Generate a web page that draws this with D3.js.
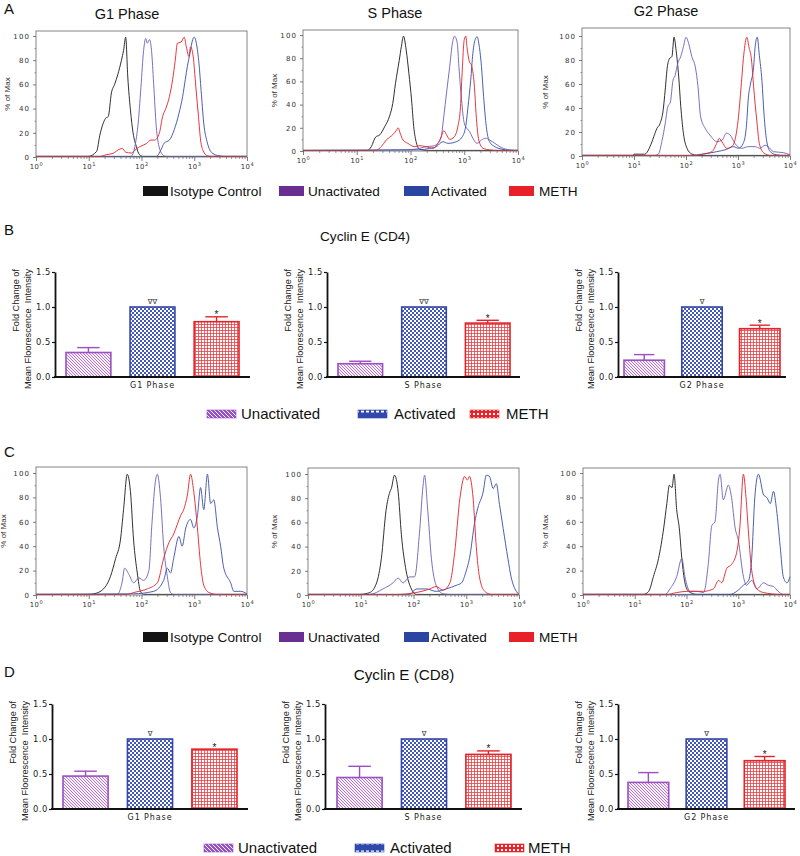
<!DOCTYPE html>
<html><head><meta charset="utf-8">
<script src="https://cdn.jsdelivr.net/npm/d3@7"></script>
<style>body{margin:0;background:#fff}svg{display:block}</style>
</head><body>
<svg id="c" width="800" height="856"></svg>
<script>
// ---------------- DATA ----------------
const seriesNames = ["Isotype Control","Unactivated","Activated","METH"];
const phaseNames = ["G1 Phase","S Phase","G2 Phase"];
const decadeTicks = [1,10,100,1000,10000];
const percentTicks = [0,20,40,60,80,100];
const foldTicks = [0.0,0.5,1.0,1.5];
const barGroups = ["Unactivated","Activated","METH"];
const cd4Title = "Cyclin E (CD4)";
const cd8Title = "Cyclin E (CD8)";

// Histograms: [log10 fluorescence, % of max]
// CD4 – G1
const cd4G1Isotype = [[0,0.5],[0.99,0.5],[1.15,4.7],[1.21,18],[1.32,32],[1.37,33.5],[1.43,53],[1.49,60],[1.55,68],[1.62,80],[1.66,88],[1.70,99],[1.74,66],[1.79,39],[1.84,20],[1.9,9],[1.96,2],[2.03,0.5],[4,0.5]];
const cd4G1Unact = [[0,0.5],[1.8,0.5],[1.93,25],[1.99,58],[2.04,88],[2.08,98],[2.11,94],[2.15,97],[2.19,88],[2.23,61],[2.28,25],[2.33,9],[2.4,2],[2.46,0.5],[4,0.5]];
const cd4G1Act = [[0,0.5],[2.28,0.5],[2.37,6],[2.43,11.5],[2.53,14],[2.62,22.5],[2.71,36],[2.78,50],[2.83,64],[2.87,75],[2.92,86],[2.97,97],[3.0,99],[3.04,94],[3.09,77],[3.13,55],[3.18,28],[3.25,11.5],[3.34,3.3],[3.47,1],[3.59,0.5],[4,0.5]];
const cd4G1Meth = [[0,0.5],[1.21,0.5],[1.34,2],[1.46,3],[1.59,6.6],[1.64,7],[1.7,4],[1.81,3.3],[1.9,6.6],[1.99,9],[2.09,11],[2.18,14],[2.25,14],[2.34,20],[2.4,33.5],[2.46,40],[2.53,50],[2.59,64],[2.64,80],[2.68,94],[2.75,95],[2.81,99],[2.85,91],[2.9,83],[2.93,91],[2.98,83],[3.03,58],[3.08,33.5],[3.12,14],[3.17,5],[3.25,1],[3.34,0.5],[4,0.5]];
// CD4 – S
const cd4SIsotype = [[0,0.5],[1.2,0.5],[1.27,3.7],[1.35,12],[1.43,14],[1.52,21],[1.61,30],[1.67,41],[1.72,58],[1.79,78],[1.83,90],[1.87,99],[1.92,87],[1.97,67],[2.02,44],[2.06,21],[2.11,7],[2.17,1.5],[2.3,0.5],[4,0.5]];
const cd4SUnact = [[0,0.5],[1.92,1],[2.11,1.7],[2.29,3.7],[2.42,4.3],[2.51,6.6],[2.57,12],[2.62,30],[2.67,50],[2.73,73],[2.78,93],[2.82,99],[2.87,93],[2.9,73],[2.95,44],[3.0,24],[3.05,19.5],[3.1,16.7],[3.16,11],[3.24,6.6],[3.32,9.5],[3.4,11],[3.47,9.5],[3.57,6.6],[3.69,3],[3.84,1],[4,0.5]];
const cd4SAct = [[0,0.5],[2.17,1],[2.36,2.3],[2.48,3.7],[2.6,8],[2.7,6.6],[2.85,8],[2.96,12],[3.03,22],[3.07,38],[3.12,61],[3.16,84],[3.21,97],[3.24,98.5],[3.27,93],[3.32,73],[3.36,47],[3.41,21],[3.47,8],[3.57,3.7],[3.72,1.4],[3.84,0.5],[4,0.5]];
const cd4SMeth = [[0,0.5],[1.36,0.5],[1.46,4],[1.55,9.5],[1.67,14],[1.74,18],[1.77,20],[1.81,15],[1.86,9.5],[1.95,6.6],[2.08,3.7],[2.17,4.6],[2.29,3.7],[2.42,2.3],[2.51,6.6],[2.57,12],[2.62,17.5],[2.67,14],[2.73,10],[2.81,12],[2.88,21],[2.93,38],[2.96,67],[3.0,96],[3.03,99],[3.05,90],[3.09,78],[3.14,73],[3.19,55],[3.22,32],[3.27,9.5],[3.35,2.3],[3.47,1],[3.6,0.5],[4,0.5]];
// CD4 – G2
const cd4G2Isotype = [[0,0.5],[0.98,0.5],[1.0,1.5],[1.2,1.5],[1.23,2],[1.31,8],[1.38,16],[1.44,23],[1.5,27],[1.56,38],[1.6,55],[1.64,74],[1.68,81],[1.73,83],[1.77,99],[1.81,88],[1.86,66],[1.9,41],[1.95,19],[2.02,6.4],[2.11,1.7],[2.21,0.5],[4,0.5]];
const cd4G2Unact = [[0,0.5],[1.4,0.5],[1.47,1.7],[1.54,13],[1.6,27],[1.65,41],[1.7,45],[1.75,63],[1.79,67],[1.84,77],[1.9,83],[1.95,91],[2.0,99],[2.05,94],[2.11,83],[2.18,74],[2.23,58],[2.28,33],[2.37,23],[2.46,17.5],[2.59,12],[2.69,13],[2.78,19],[2.85,17.5],[2.94,10.5],[3.07,6.4],[3.2,7.8],[3.33,7.8],[3.42,6.4],[3.52,9],[3.58,7.8],[3.68,3.6],[3.87,2.8],[4,1]];
const cd4G2Act = [[0,0.5],[2.08,0.5],[2.34,1.7],[2.59,3.6],[2.78,5.5],[2.91,7.8],[3.01,6.4],[3.1,10.5],[3.16,24],[3.2,49],[3.24,60],[3.3,74],[3.33,91],[3.37,99],[3.41,84],[3.46,63],[3.5,35],[3.55,13],[3.62,3.6],[3.74,1],[3.85,0.5],[4,0.5]];
const cd4G2Meth = [[0,0.5],[2.21,0.5],[2.34,1.7],[2.5,3.6],[2.59,10.5],[2.64,14.7],[2.71,10.5],[2.78,6.4],[2.88,7.8],[2.94,13],[3.01,33],[3.06,58],[3.11,84],[3.17,99],[3.21,91],[3.26,80],[3.3,58],[3.36,30],[3.41,10.5],[3.49,2.8],[3.62,0.5],[4,0.5]];
// CD8 – G1
const cd8G1Isotype = [[0,0.5],[1.0,0.5],[1.1,1],[1.28,5],[1.41,15],[1.51,30],[1.6,45],[1.66,70],[1.73,99],[1.79,85],[1.85,45],[1.92,18],[1.98,3],[2.04,0.5],[4,0.5]];
const cd8G1Unact = [[0,0.5],[1.54,0.5],[1.63,10],[1.68,22],[1.76,17],[1.85,10],[1.95,14],[2.04,12],[2.14,20],[2.2,60],[2.27,95],[2.3,99],[2.36,80],[2.42,40],[2.49,15],[2.55,2],[2.61,0.5],[4,0.5]];
const cd8G1Act = [[0,0.5],[1.85,1],[2.23,3],[2.42,12],[2.49,22],[2.55,18],[2.61,30],[2.71,48],[2.77,40],[2.84,55],[2.93,62],[2.99,55],[3.06,65],[3.12,88],[3.18,70],[3.25,99],[3.31,75],[3.37,78],[3.44,55],[3.5,40],[3.56,22],[3.69,10],[3.75,3],[3.88,3],[4,1]];
const cd8G1Meth = [[0,0.5],[1.73,0.5],[1.85,2],[2.11,5],[2.3,10],[2.42,30],[2.52,43],[2.61,50],[2.68,58],[2.74,65],[2.8,70],[2.87,82],[2.93,99],[2.99,85],[3.06,55],[3.12,25],[3.18,8],[3.28,2],[3.44,0.5],[4,0.5]];
// CD8 – S
const cd8SIsotype = [[0,0.5],[0.98,0.5],[1.17,2],[1.3,10],[1.39,30],[1.48,70],[1.55,85],[1.58,88],[1.64,99],[1.71,85],[1.77,50],[1.86,20],[1.96,5],[2.05,0.5],[4,0.5]];
const cd8SUnact = [[0,0.5],[1.17,0.5],[1.42,5],[1.61,10],[1.71,14],[1.8,10],[1.93,15],[2.02,15],[2.12,55],[2.18,90],[2.21,99],[2.27,70],[2.34,30],[2.43,8],[2.56,1],[2.69,0.5],[4,0.5]];
const cd8SAct = [[0,0.5],[1.93,0.5],[2.05,5],[2.24,5],[2.43,3],[2.62,5],[2.81,8],[2.91,10],[3.0,20],[3.06,30],[3.16,60],[3.22,72],[3.32,85],[3.38,99],[3.44,98],[3.51,88],[3.57,92],[3.63,75],[3.7,55],[3.79,30],[3.85,15],[3.95,3],[4,0.5]];
const cd8SMeth = [[0,0.5],[1.67,0.5],[2.05,2],[2.31,5],[2.43,7],[2.56,4],[2.69,10],[2.78,35],[2.88,80],[2.97,98],[3.02,95],[3.06,98],[3.13,80],[3.19,40],[3.25,15],[3.35,3],[3.48,0.5],[4,0.5]];
// CD8 – G2
const cd8G2Isotype = [[0,0.5],[1.17,0.5],[1.27,3],[1.36,15],[1.46,30],[1.56,55],[1.62,75],[1.67,90],[1.72,88],[1.76,99],[1.81,70],[1.86,55],[1.91,30],[1.97,10],[2.04,3],[2.2,0.5],[4,0.5]];
const cd8G2Unact = [[0,0.5],[1.59,0.5],[1.68,5],[1.81,15],[1.91,30],[1.97,15],[2.07,3],[2.2,3],[2.33,2],[2.42,25],[2.49,57],[2.55,60],[2.62,95],[2.65,99],[2.71,78],[2.81,90],[2.87,80],[2.94,55],[3.0,45],[3.1,15],[3.16,8],[3.26,12],[3.36,5],[3.49,10],[3.58,8],[3.68,7],[3.77,3],[3.87,0.5],[4,0.5]];
const cd8G2Act = [[0,0.5],[2.84,0.5],[2.97,3],[3.1,8],[3.2,12],[3.26,30],[3.32,80],[3.39,99],[3.49,82],[3.55,80],[3.62,75],[3.68,85],[3.74,70],[3.81,40],[3.87,15],[3.94,10],[4,15]];
const cd8G2Meth = [[0,0.5],[1.62,0.5],[1.81,2],[2.01,3],[2.33,3],[2.52,5],[2.62,12],[2.68,10],[2.78,22],[2.87,25],[2.97,35],[3.03,55],[3.1,99],[3.15,80],[3.2,50],[3.26,20],[3.36,5],[3.49,2],[3.81,0.5],[4,0.5]];

// Bar charts: fold change of mean fluorescence intensity (mean, upper error)
const cd4G1Mean = [0.35, 1.00, 0.79];
const cd4G1Err  = [0.42, 1.00, 0.86];
const cd4SMean  = [0.19, 1.00, 0.77];
const cd4SErr   = [0.225, 1.00, 0.81];
const cd4G2Mean = [0.24, 1.00, 0.69];
const cd4G2Err  = [0.32, 1.00, 0.74];
const cd8G1Mean = [0.47, 1.00, 0.855];
const cd8G1Err  = [0.54, 1.00, 0.855];
const cd8SMean  = [0.45, 1.00, 0.78];
const cd8SErr   = [0.61, 1.00, 0.83];
const cd8G2Mean = [0.38, 1.00, 0.69];
const cd8G2Err  = [0.52, 1.00, 0.75];
const cd4Marks = [["","∇∇","*"],["","∇∇","*"],["","∇","*"]];
const cd8Marks = [["","∇","*"],["","∇","*"],["","∇","*"]];

// ---------------- DRAWING ----------------
const svg = d3.select("#c");
const FONT = "'Liberation Sans', Arial, sans-serif";
const defs = svg.append("defs");

function pattern(id, w, h) {
  return defs.append("pattern").attr("id", id).attr("patternUnits", "userSpaceOnUse")
    .attr("width", w).attr("height", h);
}
// bar fills
let p = pattern("pUn", 3, 3);
p.append("rect").attr("width", 3).attr("height", 3).attr("fill", "#faf3fc");
p.append("path").attr("d", "M-1,-1L4,4M-1,2L1,4M2,-1L4,1").attr("stroke", "#a968cc").attr("stroke-width", 0.9);
p = pattern("pAct", 4, 4);
p.append("rect").attr("width", 4).attr("height", 4).attr("fill", "#fff");
p.append("rect").attr("width", 2).attr("height", 2).attr("fill", "#4358b8");
p.append("rect").attr("x", 2).attr("y", 2).attr("width", 2).attr("height", 2).attr("fill", "#4358b8");
p = pattern("pMeth", 3, 3);
p.append("rect").attr("width", 3).attr("height", 3).attr("fill", "#fff");
p.append("path").attr("d", "M0,0.5H3M0.5,0V3").attr("stroke", "#ea3d42").attr("stroke-width", 0.8);
// legend swatch fills
p = pattern("lUn", 4, 4);
p.append("rect").attr("width", 4).attr("height", 4).attr("fill", "#9a4fc4");
p.append("path").attr("d", "M-1,-1L5,5M-1,3L1,5M3,-1L5,1").attr("stroke", "#fff").attr("stroke-width", 1);
p = pattern("lAct", 5, 8);
p.append("rect").attr("width", 5).attr("height", 8).attr("fill", "#3049ab");
p.append("rect").attr("x", 1).attr("y", 2.5).attr("width", 3).attr("height", 2).attr("fill", "#fff");
p = pattern("lMeth", 4, 4);
p.append("rect").attr("width", 4).attr("height", 4).attr("fill", "#e8242b");
p.append("rect").attr("x", 1).attr("y", 1).attr("width", 2).attr("height", 2).attr("fill", "#fff");

const curveColors = ["#1e1e1e", "#6f63b8", "#3d50aa", "#e3262d"];
const legendColors = ["#141414", "#6a2e93", "#2b46a1", "#e8202a"];
const barFills = ["url(#pUn)", "url(#pAct)", "url(#pMeth)"];
const barStrokes = ["#9b4fc2", "#3447a8", "#e52229"];
const swatchFills = ["url(#lUn)", "url(#lAct)", "url(#lMeth)"];

function txt(x, y, s, size, opts = {}) {
  const t = svg.append("text").attr("x", x).attr("y", y).text(s)
    .attr("font-family", opts.family || FONT).attr("font-size", size)
    .attr("fill", opts.fill || "#111").attr("text-anchor", opts.anchor || "start");
  if (opts.ls) t.attr("letter-spacing", opts.ls);
  return t;
}

function histogram(box, curves, title, tx, labX) {
  const x = d3.scaleLog().domain([1, 1e4]).range([box.l, box.r]);
  const y = d3.scaleLinear().domain([0, 100]).range([box.b, box.t100]);
  const g = svg.append("g");
  txt(tx, box.t - 12, title, 14.5, { anchor: "middle" });
  // y label
  svg.append("text").attr("transform", `translate(${labX + 3},${(box.t + box.b) / 2}) rotate(-90)`)
    .attr("text-anchor", "middle").attr("font-family", FONT).attr("font-size", 8).attr("fill", "#333").text("% of Max");
  // minor x ticks
  const minor = [];
  for (let d = 0; d < 4; d++) for (let k = 2; k <= 9; k++) minor.push(k * Math.pow(10, d));
  g.append("g").attr("transform", `translate(0,${box.b})`)
    .call(d3.axisBottom(x).tickValues(minor).tickSize(2).tickFormat(""))
    .call(s => { s.select(".domain").remove(); s.selectAll("line").attr("stroke", "#555").attr("stroke-width", 0.6); s.selectAll("text").remove(); });
  const maj = g.append("g").attr("transform", `translate(0,${box.b})`)
    .call(d3.axisBottom(x).tickValues(decadeTicks).tickSize(4).tickFormat(""));
  maj.select(".domain").remove();
  maj.selectAll("line").attr("stroke", "#444").attr("stroke-width", 0.7);
  maj.selectAll(".tick text").each(function (d) {
    const t = d3.select(this).attr("y", 11.5).attr("dy", null).attr("font-family", "'DejaVu Sans', sans-serif")
      .attr("font-size", 6.8).attr("fill", "#333").attr("letter-spacing", 0.6).text(null);
    t.append("tspan").text("10");
    t.append("tspan").attr("dy", -2.8).attr("font-size", 5).text(Math.round(Math.log10(d)));
  });
  // y ticks
  g.append("g").attr("transform", `translate(${box.l},0)`)
    .call(d3.axisLeft(y).tickValues([10, 30, 50, 70, 90]).tickSize(1.5).tickFormat(""))
    .call(s => { s.select(".domain").remove(); s.selectAll("line").attr("stroke", "#555").attr("stroke-width", 0.6); s.selectAll("text").remove(); });
  const ya = g.append("g").attr("transform", `translate(${box.l},0)`)
    .call(d3.axisLeft(y).tickValues(percentTicks).tickSize(3).tickPadding(3));
  ya.select(".domain").remove();
  ya.selectAll("line").attr("stroke", "#444").attr("stroke-width", 0.7);
  ya.selectAll("text").attr("font-family", "'DejaVu Sans', sans-serif").attr("font-size", 7)
    .attr("fill", "#333").attr("letter-spacing", 1.1);
  // curves
  const line = d3.line().x(d => x(Math.pow(10, d[0]))).y(d => y(d[1])).curve(d3.curveMonotoneX);
  const cg = g.append("g");
  curves.forEach((c, i) => {
    cg.append("path").attr("d", line(c)).attr("fill", "none").attr("stroke", curveColors[i])
      .attr("stroke-width", 1).attr("stroke-linejoin", "round").attr("opacity", 0.92);
  });
  // frame
  g.append("rect").attr("x", box.l).attr("y", box.t).attr("width", box.r - box.l).attr("height", box.b - box.t)
    .attr("fill", "none").attr("stroke", "#666").attr("stroke-width", 0.8);
}

function bars(pl, means, errs, marks, label) {
  const y = d3.scaleLinear().domain([0, 1.5]).range([pl.y0, pl.y15]);
  const x = d3.scaleBand().domain(barGroups).range([pl.b0, pl.b1]).paddingInner(0.3);
  const g = svg.append("g");
  const bw = x.bandwidth();
  // error bars
  barGroups.forEach((k, i) => {
    if (errs[i] > means[i] + 0.001) {
      const cx = x(k) + bw / 2;
      g.append("line").attr("x1", cx).attr("x2", cx).attr("y1", y(means[i])).attr("y2", y(errs[i]))
        .attr("stroke", barStrokes[i]).attr("stroke-width", 1.4);
      g.append("line").attr("x1", cx - bw / 4).attr("x2", cx + bw / 4).attr("y1", y(errs[i])).attr("y2", y(errs[i]))
        .attr("stroke", barStrokes[i]).attr("stroke-width", 1.4);
    }
  });
  g.selectAll("rect.bar").data(barGroups).join("rect").attr("class", "bar")
    .attr("x", d => x(d)).attr("y", (d, i) => y(means[i]))
    .attr("width", bw).attr("height", (d, i) => y(0) - y(means[i]))
    .attr("fill", (d, i) => barFills[i]).attr("stroke", (d, i) => barStrokes[i]).attr("stroke-width", 1.6);
  // significance marks
  barGroups.forEach((k, i) => {
    const m = marks[i];
    if (!m) return;
    const cx = x(k) + bw / 2;
    if (m === "*") {
      txt(cx, y(Math.max(means[i], errs[i])) + 1.5, m, 10, { anchor: "middle", fill: "#222" });
    } else {
      txt(cx, y(means[i]) - 3, m, 7, { anchor: "middle", fill: "#333", family: "'DejaVu Sans', sans-serif" });
    }
  });
  // axes
  const ya = g.append("g").attr("transform", `translate(${pl.ax},0)`)
    .call(d3.axisLeft(y).tickValues(foldTicks).tickFormat(d3.format(".1f")).tickSize(3).tickSizeOuter(0).tickPadding(1));
  ya.select(".domain").attr("stroke", "#111").attr("stroke-width", 1.8);
  ya.selectAll("line").attr("stroke", "#111").attr("stroke-width", 1.2);
  ya.selectAll("text").attr("font-family", "'DejaVu Sans', sans-serif").attr("font-size", 8.4)
    .attr("fill", "#222").attr("letter-spacing", 0.6);
  g.append("line").attr("x1", pl.ax - 1).attr("x2", pl.axEnd).attr("y1", pl.y0).attr("y2", pl.y0)
    .attr("stroke", "#111").attr("stroke-width", 1.8);
  txt((pl.ax + pl.axEnd) / 2, pl.y0 + 11, label, 8, { anchor: "middle", family: "'DejaVu Sans', sans-serif", ls: 0.9, fill: "#222" });
  // y label (two lines)
  [["Fold Change of", 36], ["Mean Floorescence  Intensity", 24]].forEach(([s, off]) => {
    svg.append("text").attr("transform", `translate(${pl.ax - off},${pl.y15 - 3}) rotate(-90)`)
      .attr("text-anchor", "end").attr("font-family", FONT).attr("font-size", 9.2).attr("fill", "#222")
      .style("white-space", "pre").text(s);
  });
}

function seriesLegend(y, xs) {
  seriesNames.forEach((s, i) => {
    svg.append("rect").attr("x", xs[i][0]).attr("y", y - 10).attr("width", 25).attr("height", 10).attr("fill", legendColors[i]);
    txt(xs[i][1], y, s, 13.6, { fill: "#111" });
  });
}
function barLegend(y, xs, size) {
  barGroups.forEach((s, i) => {
    svg.append("rect").attr("x", xs[i][0]).attr("y", y - 9).attr("width", 29).attr("height", 8)
      .attr("fill", swatchFills[i]).attr("stroke", barStrokes[i]).attr("stroke-width", 0.6);
    txt(xs[i][1], y, s, size, { fill: "#111" });
  });
}

// panel letters
[["A", 14], ["B", 235], ["C", 457], ["D", 677]].forEach(([s, y]) => txt(4, y, s, 15, { fill: "#111" }));

// Panel A (CD4 histograms)
histogram({ l: 36, r: 247, t: 31, b: 157, t100: 36 }, [cd4G1Isotype, cd4G1Unact, cd4G1Act, cd4G1Meth], phaseNames[0], 127, 7);
histogram({ l: 303, r: 518, t: 30, b: 151, t100: 35 }, [cd4SIsotype, cd4SUnact, cd4SAct, cd4SMeth], phaseNames[1], 395, 274);
histogram({ l: 582, r: 790, t: 28, b: 156, t100: 36 }, [cd4G2Isotype, cd4G2Unact, cd4G2Act, cd4G2Meth], phaseNames[2], 666, 545);
seriesLegend(196, [[143, 170], [279, 308], [404, 431], [509, 539]]);

// Panel B (CD4 bars)
txt(365, 241, cd4Title, 13.6, { anchor: "middle" });
bars({ ax: 55, axEnd: 250, b0: 66, b1: 239, y0: 377, y15: 272 }, cd4G1Mean, cd4G1Err, cd4Marks[0], phaseNames[0]);
bars({ ax: 327, axEnd: 520, b0: 338, b1: 510, y0: 377, y15: 272 }, cd4SMean, cd4SErr, cd4Marks[1], phaseNames[1]);
bars({ ax: 618, axEnd: 786, b0: 624, b1: 780, y0: 377, y15: 272 }, cd4G2Mean, cd4G2Err, cd4Marks[2], phaseNames[2]);
barLegend(419, [[207, 241], [358, 394], [470, 506]], 15);

// Panel C (CD8 histograms)
histogram({ l: 36, r: 247, t: 467, b: 595, t100: 473 }, [cd8G1Isotype, cd8G1Unact, cd8G1Act, cd8G1Meth], "", 127, 3);
histogram({ l: 308, r: 519, t: 468, b: 595, t100: 474 }, [cd8SIsotype, cd8SUnact, cd8SAct, cd8SMeth], "", 395, 274);
histogram({ l: 583, r: 790, t: 468, b: 595, t100: 473 }, [cd8G2Isotype, cd8G2Unact, cd8G2Act, cd8G2Meth], "", 666, 545);
seriesLegend(642, [[143, 170], [279, 308], [404, 431], [509, 539]]);

// Panel D (CD8 bars)
txt(404, 680, cd8Title, 15.2, { anchor: "middle" });
bars({ ax: 52, axEnd: 248, b0: 63, b1: 237, y0: 809, y15: 704 }, cd8G1Mean, cd8G1Err, cd8Marks[0], phaseNames[0]);
bars({ ax: 325, axEnd: 522, b0: 337, b1: 511, y0: 809, y15: 704 }, cd8SMean, cd8SErr, cd8Marks[1], phaseNames[1]);
bars({ ax: 618, axEnd: 795, b0: 628, b1: 785, y0: 809, y15: 704 }, cd8G2Mean, cd8G2Err, cd8Marks[2], phaseNames[2]);
barLegend(853, [[204, 238], [355, 390], [495, 528]], 15);
</script>
</body></html>
